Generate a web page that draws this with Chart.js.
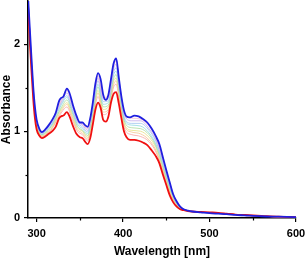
<!DOCTYPE html>
<html>
<head>
<meta charset="utf-8">
<script src="https://cdn.jsdelivr.net/npm/chart.js@4.4.1/dist/chart.umd.min.js"></script>
<style>
  body { margin: 0; background: #fff; }
  #wrap { width: 306px; height: 259px; }
</style>
</head>
<body>
<div id="wrap"><canvas id="myChart" width="306" height="259"></canvas></div>
<script>
// wavelengths (nm) for the first (red) and last (blue) spectra
const wavelength = [290, 292, 294, 296, 298, 300, 303, 306, 310, 314, 318, 322, 326, 328, 331, 335, 338, 342, 346, 350,
  353, 356, 359, 362, 365, 368, 371, 374, 377, 380, 383, 386, 389, 392, 395, 398, 401, 404, 408, 413,
  418, 423, 428, 433, 438, 442, 446, 450, 454, 458, 462, 466, 470, 475, 480, 490, 500, 510, 520, 530,
  540, 560, 580, 600];

const finalSpectrum = [2.56, 2.2, 1.85, 1.52, 1.28, 1.13, 1.03, 0.99, 1.02, 1.07, 1.13, 1.21, 1.35, 1.38, 1.40, 1.49, 1.44, 1.30, 1.18, 1.10,
  1.10, 1.07, 1.05, 1.15, 1.33, 1.55, 1.67, 1.60, 1.42, 1.36, 1.42, 1.60, 1.78, 1.84, 1.62, 1.40, 1.24, 1.17, 1.16, 1.18,
  1.17, 1.14, 1.10, 1.03, 0.94, 0.85, 0.70, 0.55, 0.41, 0.27, 0.19, 0.13, 0.10, 0.085, 0.075, 0.065, 0.055, 0.05, 0.045, 0.035,
  0.03, 0.02, 0.015, 0.01];

const startSpectrum = [2.45, 2.05, 1.70, 1.38, 1.15, 1.02, 0.95, 0.92, 0.94, 0.97, 1.00, 1.05, 1.15, 1.17, 1.18, 1.22, 1.17, 1.06, 0.97, 0.93,
  0.92, 0.88, 0.85, 0.92, 1.08, 1.25, 1.33, 1.27, 1.13, 1.11, 1.17, 1.33, 1.43, 1.45, 1.32, 1.15, 1.00, 0.93, 0.90, 0.90,
  0.89, 0.87, 0.84, 0.78, 0.71, 0.63, 0.50, 0.38, 0.26, 0.18, 0.13, 0.10, 0.09, 0.08, 0.075, 0.07, 0.065, 0.06, 0.05, 0.04,
  0.035, 0.025, 0.015, 0.01];

// wavelengths for the thin intermediate spectra
const midWavelength = [290, 294, 298, 302, 306, 312, 318, 324, 329, 335, 341, 347, 353, 359, 365, 371, 377, 383, 389, 392,
  396, 402, 410, 420, 430, 438, 446, 454, 462, 470, 485, 500, 530, 560, 600];

const mid1 = [2.47, 1.73, 1.18, 0.99, 0.94, 0.97, 1.03, 1.14, 1.22, 1.28, 1.14, 1.00, 0.96, 0.89, 1.14, 1.40, 1.19, 1.23, 1.51, 1.54,
  1.33, 1.02, 0.96, 0.94, 0.88, 0.76, 0.54, 0.29, 0.14, 0.09, 0.07, 0.06, 0.04, 0.02, 0.01];
const mid2 = [2.49, 1.75, 1.19, 1.00, 0.94, 0.98, 1.04, 1.16, 1.24, 1.31, 1.17, 1.02, 0.98, 0.91, 1.16, 1.44, 1.22, 1.25, 1.54, 1.58,
  1.36, 1.05, 0.99, 0.97, 0.90, 0.78, 0.56, 0.31, 0.15, 0.09, 0.07, 0.06, 0.04, 0.02, 0.01];
const mid3 = [2.50, 1.76, 1.21, 1.01, 0.95, 0.99, 1.05, 1.18, 1.26, 1.33, 1.19, 1.04, 1.00, 0.93, 1.19, 1.47, 1.25, 1.28, 1.58, 1.61,
  1.39, 1.07, 1.01, 1.00, 0.93, 0.81, 0.58, 0.32, 0.16, 0.09, 0.07, 0.06, 0.04, 0.02, 0.01];
const mid4 = [2.51, 1.78, 1.22, 1.02, 0.96, 1.00, 1.07, 1.19, 1.28, 1.36, 1.22, 1.06, 1.01, 0.95, 1.21, 1.51, 1.28, 1.30, 1.61, 1.65,
  1.42, 1.10, 1.04, 1.03, 0.96, 0.83, 0.60, 0.34, 0.16, 0.10, 0.07, 0.06, 0.04, 0.02, 0.01];
const mid5 = [2.52, 1.79, 1.23, 1.03, 0.96, 1.01, 1.08, 1.21, 1.31, 1.39, 1.24, 1.08, 1.03, 0.97, 1.24, 1.54, 1.31, 1.33, 1.65, 1.69,
  1.44, 1.12, 1.07, 1.06, 0.98, 0.85, 0.62, 0.35, 0.17, 0.10, 0.07, 0.06, 0.04, 0.02, 0.01];
const mid6 = [2.53, 1.81, 1.24, 1.04, 0.97, 1.02, 1.09, 1.23, 1.33, 1.41, 1.26, 1.10, 1.05, 0.99, 1.26, 1.58, 1.34, 1.35, 1.68, 1.73,
  1.47, 1.14, 1.09, 1.09, 1.01, 0.88, 0.64, 0.37, 0.17, 0.10, 0.07, 0.06, 0.04, 0.02, 0.01];
const mid7 = [2.54, 1.82, 1.26, 1.04, 0.98, 1.03, 1.11, 1.25, 1.35, 1.44, 1.29, 1.12, 1.07, 1.01, 1.29, 1.61, 1.37, 1.38, 1.72, 1.77,
  1.50, 1.17, 1.12, 1.12, 1.03, 0.90, 0.66, 0.38, 0.18, 0.10, 0.07, 0.06, 0.04, 0.02, 0.01];
const mid8 = [2.55, 1.84, 1.27, 1.05, 0.98, 1.04, 1.12, 1.26, 1.37, 1.47, 1.31, 1.14, 1.08, 1.03, 1.31, 1.64, 1.39, 1.40, 1.75, 1.81,
  1.53, 1.19, 1.15, 1.14, 1.06, 0.92, 0.68, 0.40, 0.19, 0.10, 0.07, 0.06, 0.04, 0.02, 0.01];

const midSeries = [mid1, mid2, mid3, mid4, mid5, mid6, mid7, mid8];
const midColors = ['#f6a3a3', '#f5c48e', '#e6df82', '#a8dc9c', '#8fdadf', '#9fc3f0', '#c4aaea', '#f2b3d6'];

const xTicks = [300, 400, 500, 600];
const xMinor = [350, 450, 550];
const yTicks = [0, 1, 2];
const yMinor = [0.5, 1.5];

const toPoints = (xs, ys) => xs.map((x, i) => ({ x: x, y: ys[i] }));

const datasets = [
  { data: toPoints(wavelength, finalSpectrum), borderColor: '#1f1fe0', borderWidth: 1.8 },
  { data: toPoints(wavelength, startSpectrum), borderColor: '#f01010', borderWidth: 1.8 }
];
midSeries.slice().reverse().forEach((s, i) => {
  datasets.push({ data: toPoints(midWavelength, s), borderColor: midColors[midColors.length - 1 - i], borderWidth: 0.8 });
});

// small outward ticks between the labelled ones
const minorTicks = {
  id: 'minorTicks',
  afterDraw(chart) {
    const { ctx, scales: { x, y } } = chart;
    ctx.save();
    ctx.strokeStyle = '#000';
    ctx.lineWidth = 1.2;
    xMinor.forEach(v => {
      const px = Math.round(x.getPixelForValue(v)) + 0.5;
      ctx.beginPath();
      ctx.moveTo(px, x.top);
      ctx.lineTo(px, x.top + 2.5);
      ctx.stroke();
    });
    yMinor.forEach(v => {
      const py = Math.round(y.getPixelForValue(v)) + 0.5;
      ctx.beginPath();
      ctx.moveTo(y.right, py);
      ctx.lineTo(y.right - 2.5, py);
      ctx.stroke();
    });
    ctx.restore();
  }
};

const tickFont = { family: 'Liberation Sans, Arial, sans-serif', size: 11, weight: 'bold' };
const titleFont = { family: 'Liberation Sans, Arial, sans-serif', size: 12, weight: 'bold', lineHeight: 1.1 };

new Chart(document.getElementById('myChart'), {
  type: 'line',
  data: { datasets: datasets },
  options: {
    responsive: false,
    animation: false,
    layout: { padding: { top: 1, right: 0, left: 0, bottom: 0 } },
    elements: {
      point: { radius: 0 },
      line: { cubicInterpolationMode: 'monotone', fill: false }
    },
    plugins: { legend: { display: false }, tooltip: { enabled: false } },
    scales: {
      x: {
        type: 'linear',
        min: 290,
        max: 600,
        afterBuildTicks: s => { s.ticks = xTicks.map(v => ({ value: v })); },
        afterFit: s => { s.height = 41; s.paddingLeft = 0; s.paddingRight = 10; },
        grid: { drawOnChartArea: false, drawTicks: true, tickLength: 4, color: '#000', lineWidth: 1.2 },
        border: { display: true, color: '#000', width: 1.5 },
        ticks: { color: '#000', font: tickFont, padding: 5, maxRotation: 0 },
        title: { display: true, text: 'Wavelength [nm]', color: '#000', font: titleFont, padding: { top: 0, bottom: 1 } }
      },
      y: {
        min: 0,
        max: 2.5,
        afterBuildTicks: s => { s.ticks = yTicks.map(v => ({ value: v })); },
        afterFit: s => { s.width = 28; s.paddingTop = 0; s.paddingBottom = 0; },
        grid: { drawOnChartArea: false, drawTicks: true, tickLength: 4, color: '#000', lineWidth: 1.2 },
        border: { display: true, color: '#000', width: 1.5 },
        ticks: { color: '#000', font: tickFont, padding: 4 },
        title: { display: true, text: 'Absorbance', color: '#000', font: titleFont, padding: { top: 0, bottom: 0 } }
      }
    }
  },
  plugins: [minorTicks]
});
</script>
</body>
</html>
